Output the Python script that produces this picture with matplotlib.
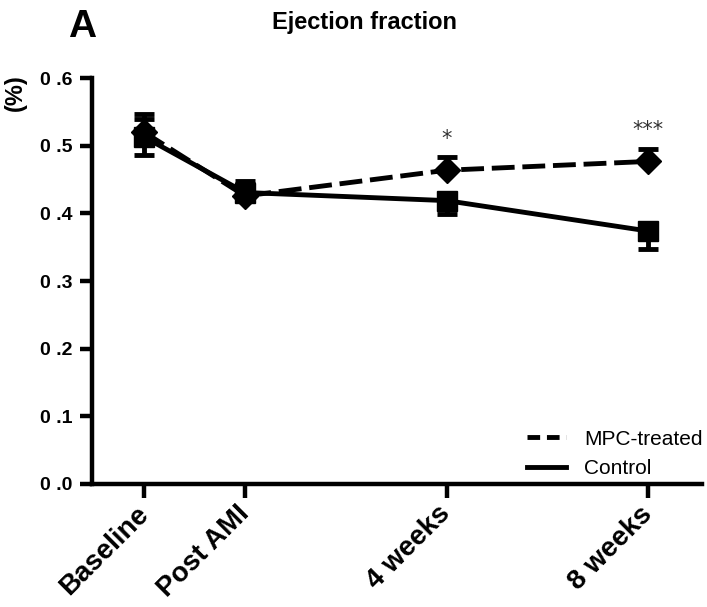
import numpy as np
import matplotlib
matplotlib.use("Agg")
from matplotlib import pyplot as plt
from matplotlib.lines import Line2D

# data
labels = ["Baseline", "Post AMI", "4 weeks", "8 weeks"]
weeks = [-2, 0, 4, 8]
mpc_mean = [0.520, 0.426, 0.464, 0.477]
mpc_err = [0.020, 0.022, 0.020, 0.019]
ctrl_mean = [0.513, 0.431, 0.419, 0.374]
ctrl_err_lo = [0.026, 0.010, 0.020, 0.027]
ctrl_err_hi = [0.034, 0.012, 0.0, 0.0]
stars = ["", "", "*", "***"]
yticks = [0.0, 0.1, 0.2, 0.3, 0.4, 0.5, 0.6]

FONT = "Liberation Sans"
LW = 3.5
DASH = (4.7, 1.6)

fig = plt.figure(figsize=(7.07, 6.07), dpi=100)
ax = fig.add_axes([0.130, 0.203, 0.863, 0.668])

ax.errorbar(weeks, mpc_mean, yerr=[np.zeros(4), mpc_err], fmt="D--", color="black",
            lw=LW, ms=13.5, capsize=7, capthick=LW, elinewidth=LW, dashes=DASH,
            zorder=3)
ax.errorbar(weeks, ctrl_mean, yerr=[ctrl_err_lo, ctrl_err_hi], fmt="s-", color="black",
            lw=LW, ms=14.5, capsize=7, capthick=LW, elinewidth=LW, zorder=4)

for x, m, e, s in zip(weeks, mpc_mean, mpc_err, stars):
    if s:
        ax.text(x, m + e + 0.012, s, ha="center", va="bottom", fontsize=15,
                family="DejaVu Sans", color="#333333")

ax.set_xlim(-3.04, 9.07)
ax.set_ylim(0, 0.6)
ax.set_yticks(yticks)
ax.set_yticklabels([f"{v:.1f}".replace(".", " .") for v in yticks],
                   fontsize=14, fontweight="bold", family=FONT)
ax.set_xticks(weeks)
ax.set_xticklabels(labels, rotation=45, ha="right", va="center", rotation_mode="anchor",
                   fontsize=20, fontweight="bold", family=FONT)

for side in ["top", "right"]:
    ax.spines[side].set_visible(False)
for side in ["left", "bottom"]:
    ax.spines[side].set_linewidth(3.2)
ax.tick_params(axis="y", direction="out", length=9, width=3.2, pad=5)
ax.tick_params(axis="x", direction="out", length=10, width=3.2, pad=9)

fig.text(0.022, 0.847, "(%)", rotation=90, fontsize=17, fontweight="bold",
         family=FONT, ha="center", va="center")
fig.text(0.515, 0.963, "Ejection fraction", fontsize=17, fontweight="bold",
         family=FONT, ha="center", va="center")
fig.text(0.116, 0.955, "A", fontsize=28, fontweight="heavy",
         family=["Liberation Sans Narrow", FONT], ha="center", va="center")

handles = [Line2D([], [], color="black", lw=LW, ls="--", dashes=(2.6, 1.4)),
           Line2D([], [], color="black", lw=LW, ls="-")]
ax.legend(handles, ["MPC-treated", "Control"], loc="upper left",
          bbox_to_anchor=(0.745, 0.292), bbox_transform=fig.transFigure,
          frameon=False, borderpad=0, borderaxespad=0, handlelength=1.9,
          handletextpad=0.85, labelspacing=0.5,
          prop={"family": FONT, "size": 15})

fig.savefig("out.png", dpi=100)
